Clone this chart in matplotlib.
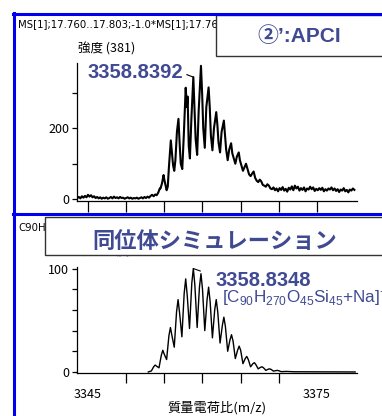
import matplotlib
matplotlib.use("Agg")
import matplotlib.pyplot as plt
from matplotlib.lines import Line2D
from matplotlib.patches import Rectangle

plt.rcParams['font.family'] = ['Noto Sans CJK JP', 'DejaVu Sans']
plt.rcParams['mathtext.fontset'] = 'custom'
plt.rcParams['mathtext.rm'] = 'Liberation Sans'
plt.rcParams['mathtext.it'] = 'Liberation Sans'
plt.rcParams['mathtext.bf'] = 'Liberation Sans:bold'

# measured spectrum (APCI), m/z vs intensity
meas_mz = [
    3343.6, 3343.8, 3344.0, 3344.2, 3344.4, 3344.6, 3344.8, 3345.0, 3345.2, 3345.4,
    3345.6, 3345.8, 3346.0, 3346.2, 3346.4, 3346.6, 3346.8, 3347.0, 3347.2, 3347.4,
    3347.6, 3347.8, 3348.0, 3348.2, 3348.4, 3348.6, 3348.8, 3349.0, 3349.2, 3349.4,
    3349.6, 3349.8, 3350.0, 3350.2, 3350.4, 3350.6, 3350.8, 3351.0, 3351.2, 3351.4,
    3351.6, 3351.8, 3352.0, 3352.2, 3352.4, 3352.6, 3352.8, 3353.0, 3353.2, 3353.4,
    3353.6, 3353.8, 3354.0, 3354.2, 3354.4,
    3354.5, 3354.7, 3354.9, 3355.0, 3355.15, 3355.3, 3355.45, 3355.6, 3355.85, 3356.0,
    3356.15, 3356.3, 3356.45, 3356.65, 3356.85, 3357.0, 3357.15, 3357.35, 3357.55, 3357.8,
    3357.95, 3358.05, 3358.2, 3358.35, 3358.55, 3358.8, 3358.95, 3359.1, 3359.3, 3359.5,
    3359.8, 3359.95, 3360.1, 3360.3, 3360.5, 3360.8, 3360.95, 3361.1, 3361.3, 3361.5,
    3361.8, 3361.95, 3362.1, 3362.3, 3362.5, 3362.8, 3362.95, 3363.1, 3363.3, 3363.5,
    3363.75, 3363.9, 3364.1, 3364.3, 3364.5, 3364.75, 3364.9, 3365.1, 3365.3, 3365.5,
    3365.7, 3365.9, 3366.1, 3366.3, 3366.5, 3366.7, 3366.9, 3367.1, 3367.3, 3367.5,
    3367.7, 3367.9, 3368.1, 3368.3, 3368.5, 3368.7, 3368.9,
    3369.1, 3369.3, 3369.5, 3369.7, 3369.9, 3370.1, 3370.3, 3370.5, 3370.7, 3370.9,
    3371.1, 3371.3, 3371.5, 3371.7, 3371.9, 3372.1, 3372.3, 3372.5, 3372.7, 3372.9,
    3373.1, 3373.3, 3373.5, 3373.7, 3373.9, 3374.1, 3374.3, 3374.5, 3374.7, 3374.9,
    3375.1, 3375.3, 3375.5, 3375.7, 3375.9, 3376.1, 3376.3, 3376.5, 3376.7, 3376.9,
    3377.1, 3377.3, 3377.5, 3377.7, 3377.9, 3378.1, 3378.3, 3378.5, 3378.7, 3378.9,
    3379.1, 3379.3, 3379.5, 3379.7, 3379.9,
]
meas_int = [
    3, 6, 2, 8, 4, 9, 5, 12, 7, 11,
    5, 8, 3, 6, 2, 5, 1, 4, 2, 5,
    1, 3, 6, 2, 7, 3, 5, 2, 6, 3,
    4, 1, 3, 5, 2, 4, 1, 3, 2, 4,
    1, 3, 5, 2, 6, 3, 7, 4, 9, 12,
    8, 13, 11, 18, 30,
    30, 45, 68, 55, 40, 25, 35, 90, 166, 130,
    95, 80, 110, 190, 227, 160, 100, 85, 180, 315,
    260, 290, 150, 115, 230, 345, 260, 170, 125, 250,
    377, 300, 200, 145, 260, 316, 260, 180, 138, 200,
    246, 210, 160, 132, 190, 222, 180, 140, 110, 140,
    158, 130, 115, 100, 120, 132, 110, 95, 80, 90,
    100, 85, 70, 65, 72, 78, 60, 52, 48, 55,
    50, 40, 38, 35, 42, 38, 30,
    28, 33, 25, 30, 22, 31, 26, 34, 24, 29,
    21, 32, 27, 36, 25, 38, 30, 35, 24, 31,
    26, 33, 22, 30, 27, 35, 28, 33, 23, 29,
    25, 31, 26, 32, 22, 28, 24, 30, 27, 33,
    25, 30, 23, 28, 20, 27, 24, 31, 22, 26,
    19, 27, 24, 30, 26,
]

# simulated isotope pattern, relative intensity
sim_mz = [
    3352.9, 3353.3, 3353.6, 3353.8, 3354.0, 3354.3, 3354.6, 3354.8, 3355.0, 3355.3,
    3355.6, 3355.8, 3356.0, 3356.3, 3356.6, 3356.8, 3357.0, 3357.3, 3357.6, 3357.8,
    3358.0, 3358.3, 3358.6, 3358.8, 3359.0, 3359.3, 3359.6, 3359.8, 3360.0, 3360.3,
    3360.6, 3360.8, 3361.0, 3361.3, 3361.6, 3361.8, 3362.0, 3362.3, 3362.6, 3362.8,
    3363.0, 3363.3, 3363.6, 3363.8, 3364.0, 3364.3, 3364.6, 3364.8, 3365.0, 3365.3,
    3365.6, 3365.8, 3366.0, 3366.3, 3366.6, 3366.8, 3367.0, 3367.3, 3367.6, 3367.8,
    3368.0, 3368.3, 3368.6, 3368.8, 3369.0, 3369.3, 3369.6, 3369.8, 3370.0, 3370.3,
    3371.0, 3372.0, 3380.0,
]
sim_int = [
    0, 1, 5, 6.7, 5.5, 4, 16, 21, 17, 12,
    35, 43, 35, 24, 58, 70, 57, 34, 76, 90,
    74, 42, 86, 100, 84, 43, 82, 95, 80, 40,
    70, 82, 68, 33, 60, 70, 58, 28, 45, 53,
    44, 20, 31, 36, 30, 13, 21, 25, 21, 8,
    13, 15, 12, 5, 8, 9, 7, 3, 4.5, 5,
    4, 1.5, 2.7, 3, 2.4, 0.8, 1.3, 1.5, 1.2, 0.3,
    0.5, 0.2, 0,
]

meas_peak = (3358.8, 345)
sim_peak = (3358.8, 100)
meas_label = "3358.8392"
sim_label = "3358.8348"
mz_ticks = [3345, 3350, 3355, 3360, 3365, 3370, 3375]

NAVY = '#3F4A93'
W, H = 382, 416


def fx(px):
    return px / W


def fy(py):
    return 1 - py / H


fig = plt.figure(figsize=(W / 100, H / 100), dpi=100)

# top panel: measured
ax1 = fig.add_axes([fx(77), fy(200.5), (357 - 77) / W, (200.5 - 63) / H])
ax1.plot(meas_mz, meas_int, color='black', lw=1.5)
ax1.set_xlim(3343.56, 3380.24)
ax1.set_ylim(-4, 385)
ax1.set_xticks(mz_ticks)
ax1.set_xticklabels([])
ax1.tick_params(axis='x', length=8, width=0.9, direction='out')
ax1.set_yticks([0, 100, 200, 300])
ax1.set_yticklabels(['0', '', '200', ''])
ax1.tick_params(axis='y', length=3.6, width=0.9, pad=2, labelsize=9)
for s in ['top', 'right']:
    ax1.spines[s].set_visible(False)
for s in ['left', 'bottom']:
    ax1.spines[s].set_linewidth(0.9)
ax1.annotate(meas_label, xy=meas_peak, xytext=(87, H - 73), textcoords='figure pixels',
             ha='left', va='center', fontsize=14.5, fontweight='bold', color=NAVY,
             family='Liberation Sans',
             arrowprops=dict(arrowstyle='-', color='black', lw=0.8,
                             relpos=(1, 0.5), shrinkA=1, shrinkB=0))

# bottom panel: simulation
ax2 = fig.add_axes([fx(77), fy(373), (357 - 77) / W, (373 - 267) / H])
ax2.plot(sim_mz, sim_int, color='black', lw=1.0)
ax2.set_xlim(3343.56, 3380.24)
ax2.set_ylim(-1, 101.5)
ax2.set_xticks([3345, 3375])
ax2.set_xticks(mz_ticks[1:-1], minor=True)
ax2.tick_params(axis='x', which='major', length=0, pad=11, labelsize=9)
ax2.tick_params(axis='x', which='minor', length=7, width=0.9, direction='out')
ax2.set_yticks([0, 20, 40, 60, 80, 100])
ax2.set_yticklabels(['0', '', '', '', '', '100'])
ax2.tick_params(axis='y', length=3.6, width=0.9, pad=2, labelsize=9)
for s in ['top', 'right']:
    ax2.spines[s].set_visible(False)
for s in ['left', 'bottom']:
    ax2.spines[s].set_linewidth(0.9)
ax2.set_xlabel('質量電荷比(m/z)', fontsize=9.5, labelpad=0)
ax2.annotate(sim_label, xy=sim_peak, xytext=(215, H - 280), textcoords='figure pixels',
             ha='left', va='center', fontsize=14.5, fontweight='bold', color=NAVY,
             family='Liberation Sans',
             arrowprops=dict(arrowstyle='-', color='black', lw=0.8,
                             relpos=(0, 0.7), shrinkA=9, shrinkB=0))
fig.text(fx(222), fy(297), r'[C$_{90}$H$_{270}$O$_{45}$Si$_{45}$+Na]$^{+}$',
         ha='left', va='center', fontsize=12.3, color=NAVY, family='Liberation Sans')

# header texts (partly hidden by label boxes)
fig.text(fx(18), fy(24), 'MS[1];17.760..17.803;-1.0*MS[1];17.760..17.803',
         ha='left', va='center', fontsize=7.3, family='DejaVu Sans', zorder=3)
fig.text(fx(78), fy(49), '強度 (381)', ha='left', va='center', fontsize=9, zorder=3)
fig.text(fx(18), fy(228), 'C90H270O45Si45+Na', ha='left', va='center',
         fontsize=7.3, family='DejaVu Sans', zorder=3)
fig.text(fx(80), fy(252), '相対強度', ha='left', va='center', fontsize=9, zorder=3)

# label boxes
fig.add_artist(Rectangle((fx(216), fy(56)), (W + 5 - 216) / W, 41 / H,
                         transform=fig.transFigure, facecolor='white',
                         edgecolor='#333333', lw=1.0, zorder=5))
fig.text(fx(299), fy(36), '②’:APCI', ha='center', va='center', fontsize=15,
         fontweight='bold', color=NAVY, family=['Liberation Sans', 'Noto Sans CJK JP'],
         zorder=6)
fig.add_artist(Rectangle((fx(45), fy(255)), (W + 5 - 45) / W, 38 / H,
                         transform=fig.transFigure, facecolor='white',
                         edgecolor='#333333', lw=1.0, zorder=5))
fig.text(fx(215), fy(241), '同位体シミュレーション', ha='center', va='center',
         fontsize=16, fontweight='bold', color=NAVY, zorder=6)

# blue frame
for xs, ys in [([14, 14], [13, H]), ([13, W], [14, 14]), ([13, W], [214, 214])]:
    fig.add_artist(Line2D([fx(v) for v in xs], [fy(v) for v in ys],
                          transform=fig.transFigure, color='#0000ee', lw=2.2, zorder=7))

fig.savefig('out.png', dpi=100)
